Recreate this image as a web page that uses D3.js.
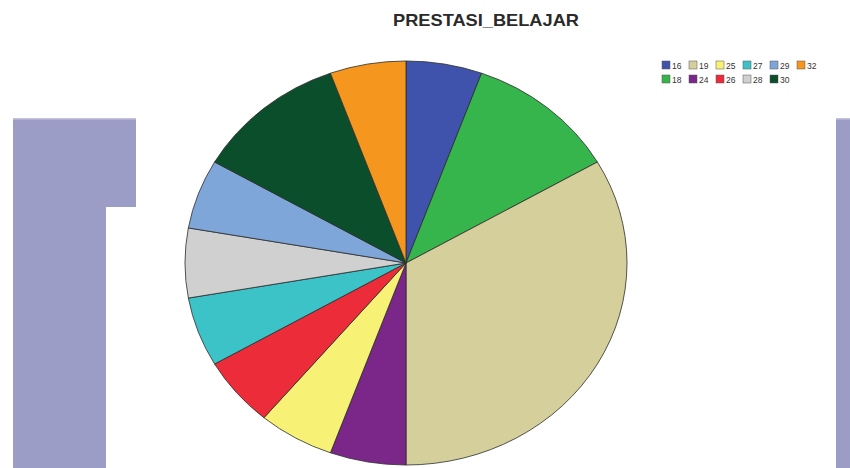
<!DOCTYPE html>
<html>
<head>
<meta charset="utf-8">
<script src="https://cdn.jsdelivr.net/npm/d3@7"></script>
<style>
  html, body { margin: 0; padding: 0; background: #fff; }
  svg { display: block; }
</style>
</head>
<body>
<svg id="chart" width="850" height="468"></svg>
<script>
const title = "PRESTASI_BELAJAR";
const categories = ["16", "18", "19", "24", "25", "26", "27", "28", "29", "30", "32"];
const counts = [1, 2, 6, 1, 1, 1, 1, 1, 1, 2, 1];
const colors = ["#3f53ac", "#35b54b", "#d5cf9b", "#7a2789", "#f7f176", "#ed2c3a",
                "#3cc3c7", "#d0d0d0", "#7ea6d9", "#0b4e2b", "#f5971f"];

const svg = d3.select("#chart");
const W = 850, H = 468;

// background decoration
const bg = svg.append("g");
bg.append("rect").attr("x", 13).attr("y", 118.5).attr("width", 123).attr("height", 88.5).attr("fill", "#9c9dc6");
bg.append("rect").attr("x", 13).attr("y", 118.5).attr("width", 93).attr("height", H - 118.5).attr("fill", "#9c9dc6");
bg.append("rect").attr("x", 836).attr("y", 118.5).attr("width", 14).attr("height", H - 118.5).attr("fill", "#9c9dc6");
bg.append("rect").attr("x", 13).attr("y", 118).attr("width", 123).attr("height", 1.5).attr("fill", "#c4c4dc");
bg.append("rect").attr("x", 836).attr("y", 118).attr("width", 14).attr("height", 1.5).attr("fill", "#c4c4dc");

// title
svg.append("text")
  .attr("x", 486).attr("y", 26)
  .attr("text-anchor", "middle")
  .attr("font-family", "Liberation Sans, Arial, sans-serif")
  .attr("font-weight", "bold")
  .attr("font-size", 16.5)
  .attr("textLength", 186)
  .attr("lengthAdjust", "spacingAndGlyphs")
  .attr("fill", "#2a2a2a")
  .text(title);

// pie (elliptical)
const cx = 406, cy = 263, rx = 221, ry = 202;
const data = categories.map((c, i) => ({ cat: c, value: counts[i], color: colors[i] }));
const pie = d3.pie().sort(null).value(d => d.value);
const arc = d3.arc().innerRadius(0).outerRadius(rx);
const colorScale = d3.scaleOrdinal().domain(categories).range(colors);

const pg = svg.append("g").attr("transform", `translate(${cx},${cy}) scale(1,${ry / rx})`);
pg.selectAll("path")
  .data(pie(data))
  .join("path")
  .attr("d", arc)
  .attr("fill", d => colorScale(d.data.cat))
  .attr("stroke", "#2b2b2b")
  .attr("stroke-width", 0.8)
  .attr("vector-effect", "non-scaling-stroke");

// legend (column-major, 2 rows)
const lg = svg.append("g");
const items = lg.selectAll("g")
  .data(data)
  .join("g")
  .attr("transform", (d, i) => `translate(${662 + Math.floor(i / 2) * 27},${61 + (i % 2) * 14})`);
items.append("rect")
  .attr("width", 8).attr("height", 8)
  .attr("fill", d => colorScale(d.cat))
  .attr("stroke", "#555").attr("stroke-width", 0.5);
items.append("text")
  .attr("x", 10).attr("y", 7.5)
  .attr("font-family", "Liberation Sans, Arial, sans-serif")
  .attr("font-size", 8.5)
  .attr("fill", "#333")
  .text(d => d.cat);
</script>
</body>
</html>
